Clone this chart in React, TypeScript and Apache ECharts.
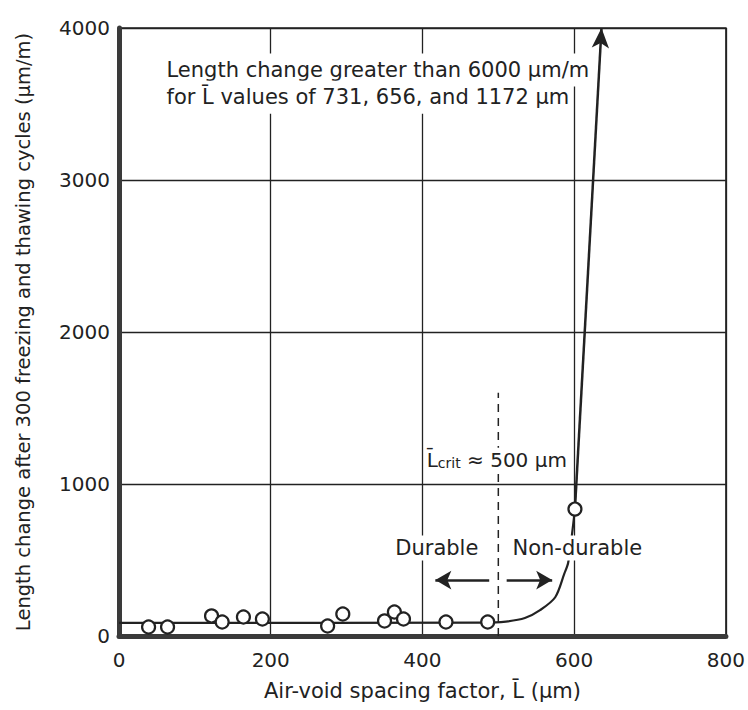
import React, { useEffect, useRef } from "react";
import * as echarts from "echarts";

const xTicks = [0, 200, 400, 600, 800];
const yTicks = [0, 1000, 2000, 3000, 4000];
const spacingFactor = [39, 64, 122, 136, 164, 189, 275, 295, 350, 363, 375, 431, 486, 601];
const lengthChange = [59, 59, 132, 92, 125, 112, 66, 145, 99, 158, 112, 92, 92, 835];
const fitX = [0, 480, 510, 535, 555, 575, 587, 592, 597, 601];
const fitY = [86, 88, 95, 118, 170, 255, 410, 480, 664, 835];
const arrowX = [601, 636];
const arrowY = [835, 4000];
const critX = [500, 500];
const critY = [0, 1600];
const durableArrow = [488, 417];
const nonDurableArrow = [511, 571];
const arrowLevel = 368;

const FONT = "'DejaVu Sans', 'Liberation Sans', Arial, sans-serif";
const INK = "#222";

export default function App() {
  const ref = useRef<HTMLDivElement>(null);
  useEffect(() => {
    if (!ref.current) return;
    const chart = echarts.init(ref.current, null, { renderer: "svg" });
    const axisLabel = { fontSize: 20, color: INK, fontFamily: FONT, formatter: (v: number) => String(v) };
    chart.setOption({
      animation: false,
      backgroundColor: "#fff",
      grid: { left: 119, top: 28, width: 608, height: 608, show: true, borderColor: INK, borderWidth: 1.5, backgroundColor: "transparent" },
      xAxis: {
        type: "value", min: xTicks[0], max: xTicks[xTicks.length - 1], interval: 200,
        axisLine: { show: true, onZero: false, lineStyle: { color: "#3a3a3a", width: 5 } },
        axisTick: { show: false },
        axisLabel: { ...axisLabel, margin: 14 },
        splitLine: { show: true, lineStyle: { color: INK, width: 1.3 } },
        name: "Air-void spacing factor, L\u0304 (\u00b5m)",
        nameLocation: "middle", nameGap: 44,
        nameTextStyle: { fontSize: 21, color: INK, fontFamily: FONT },
      },
      yAxis: {
        type: "value", min: yTicks[0], max: yTicks[yTicks.length - 1], interval: 1000,
        axisLine: { show: true, onZero: false, lineStyle: { color: "#3a3a3a", width: 5 } },
        axisTick: { show: false },
        axisLabel: { ...axisLabel, margin: 9 },
        splitLine: { show: true, lineStyle: { color: INK, width: 1.3 } },
        name: "Length change after 300 freezing and thawing cycles (\u00b5m/m)",
        nameLocation: "middle", nameGap: 86,
        nameTextStyle: { fontSize: 19.5, color: INK, fontFamily: FONT },
      },
      series: [
        {
          type: "line", data: fitX.map((x, i) => [x, fitY[i]]), smooth: 0.3, showSymbol: false, symbol: "none",
          lineStyle: { color: INK, width: 2.2 }, z: 3,
          markLine: {
            silent: true, symbol: ["none", "arrow"], symbolSize: [13, 20],
            label: { show: false },
            lineStyle: { color: INK, width: 2.5, type: "solid" },
            data: [
              [{ coord: [arrowX[0], arrowY[0]] }, { coord: [arrowX[1], arrowY[1]] }],
              [{ coord: [durableArrow[0], arrowLevel], symbolSize: [14, 16] }, { coord: [durableArrow[1], arrowLevel], symbolSize: [14, 16] }],
              [{ coord: [nonDurableArrow[0], arrowLevel], symbolSize: [14, 16] }, { coord: [nonDurableArrow[1], arrowLevel], symbolSize: [14, 16] }],
            ],
          },
        },
        {
          type: "line", data: critX.map((x, i) => [x, critY[i]]), showSymbol: false, symbol: "none",
          lineStyle: { color: INK, width: 1.5, type: [8, 6] }, z: 2,
        },
        {
          type: "scatter", data: spacingFactor.map((x, i) => [x, lengthChange[i]]),
          symbol: "circle", symbolSize: 13,
          itemStyle: { color: "#fff", borderColor: INK, borderWidth: 2.2, opacity: 1 }, z: 5,
        },
      ],
    });
    const px = (x: number, y: number) => chart.convertToPixel({ gridIndex: 0 }, [x, y]) as number[];
    const base = { fontSize: 21, fill: INK, fontFamily: FONT };
    const a1 = px(60, 3724);
    const a2 = px(60, 3545);
    const dur = px(479, 579);
    const non = px(516, 579);
    const crit = px(403, 1160);
    chart.setOption({
      graphic: [
        { type: "text", z: 100, x: a1[0], y: a1[1], style: { ...base, text: "Length change greater than 6000 \u00b5m/m", verticalAlign: "middle", backgroundColor: "#fff", padding: [6, 2] } },
        { type: "text", z: 100, x: a2[0], y: a2[1], style: { ...base, text: "for L\u0304 values of 731, 656, and 1172 \u00b5m", verticalAlign: "middle", backgroundColor: "#fff", padding: [6, 2] } },
        { type: "text", z: 100, x: dur[0], y: dur[1], style: { ...base, text: "Durable", align: "right", verticalAlign: "middle", backgroundColor: "#fff", padding: [2, 4] } },
        { type: "text", z: 100, x: non[0], y: non[1], style: { ...base, text: "Non-durable", align: "left", verticalAlign: "middle", backgroundColor: "#fff", padding: [2, 2] } },
        {
          type: "text", z: 100, x: crit[0], y: crit[1],
          style: {
            text: "{l|L\u0304}{s|crit}{t| \u2248 500 \u00b5m}", verticalAlign: "middle", backgroundColor: "#fff", padding: [2, 2],
            fontFamily: FONT, fill: INK,
            rich: {
              l: { fontSize: 20, fontFamily: FONT, fill: INK },
              s: { fontSize: 14, fontFamily: FONT, fill: INK, verticalAlign: "bottom", padding: [6, 0, 0, 0] },
              t: { fontSize: 20, fontFamily: FONT, fill: INK },
            },
          },
        },
      ],
    });
    return () => chart.dispose();
  }, []);
  return <div ref={ref} style={{ position: "fixed", left: 0, top: 0, width: 748, height: 710 }} />;
}
